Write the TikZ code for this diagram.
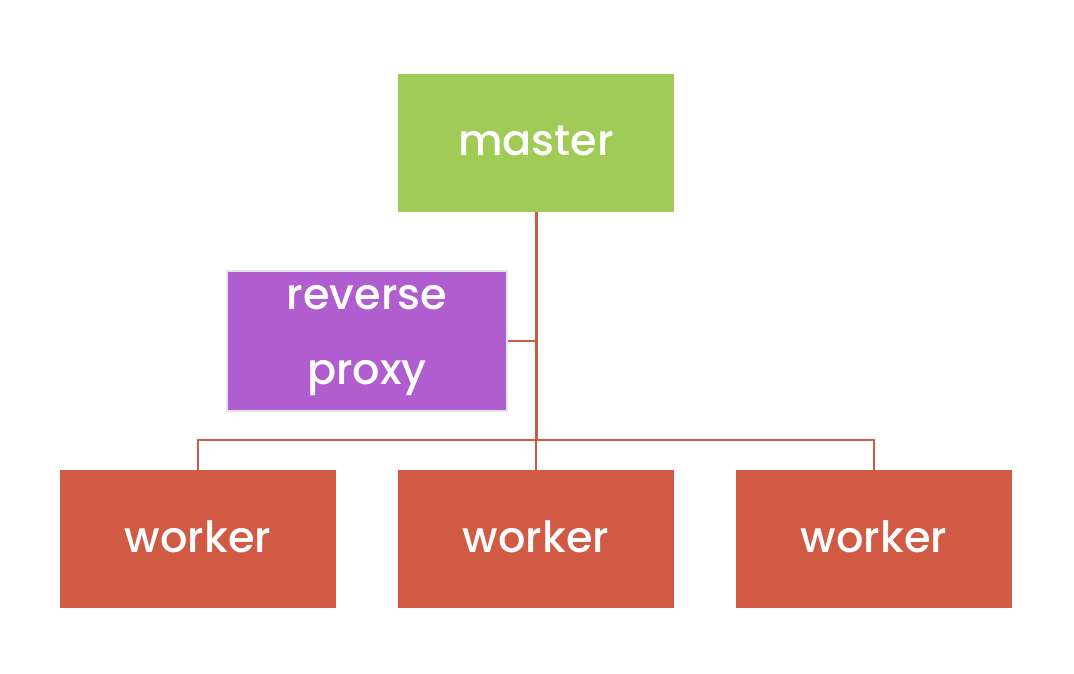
\documentclass[tikz,border=0pt]{standalone}
\usepackage{fontspec}
\setmainfont{Poppins Medium}
\definecolor{mastergreen}{RGB}{159,203,86}
\definecolor{proxypurple}{RGB}{176,93,207}
\definecolor{workerred}{RGB}{209,90,69}
\tikzset{
  box/.style={minimum width=276pt, minimum height=138pt, inner sep=0pt, text=white,
    font=\fontsize{43}{75}\selectfont},
  oneline/.style={text height=26pt, text depth=0pt},
  link/.style={draw=workerred, line width=1.6pt}
}
\begin{document}
\begin{tikzpicture}[x=1pt,y=-1pt]
\useasboundingbox[fill=white] (0,0) rectangle (1074,674);

% Boxes
\node[box, oneline, fill=mastergreen] (master) at (536,143) {master};
\node[box, fill=proxypurple, draw=black!10, line width=1.5pt, minimum width=280pt, minimum height=140pt, align=center] (proxy) at (367,341) {reverse\\proxy};
\node[box, oneline, fill=workerred] (worker1) at (198,539) {worker};
\node[box, oneline, fill=workerred] (worker2) at (536,539) {worker};
\node[box, oneline, fill=workerred] (worker3) at (874,539) {worker};

% Links
\coordinate (hub) at (536,440);
\draw[link, line width=3pt] (master.south) -- (hub);
\draw[link] (proxy.east) -- (proxy.east -| hub);
\draw[link] (worker1.north) -- (worker1.north |- hub) -- (worker3.north |- hub) -- (worker3.north);
\draw[link] (hub) -- (worker2.north);
\end{tikzpicture}
\end{document}
